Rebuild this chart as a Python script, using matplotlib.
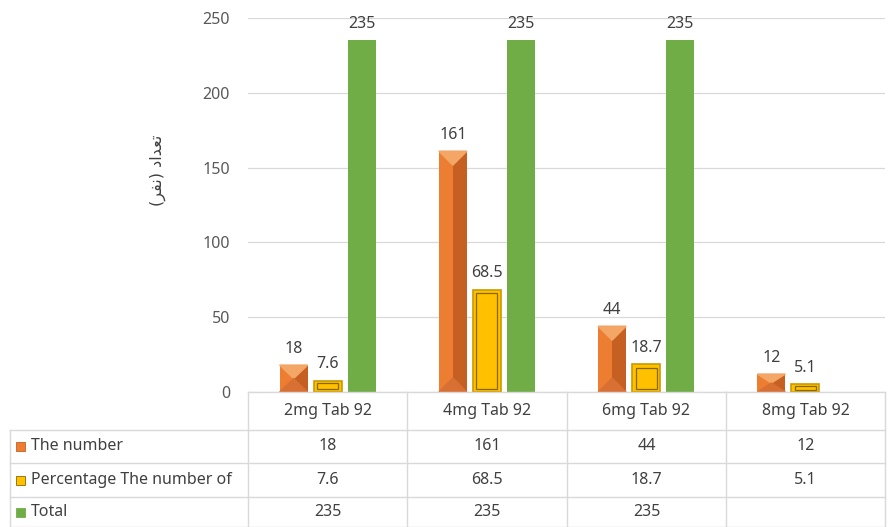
import numpy as np
import matplotlib.pyplot as plt
from matplotlib.patches import Polygon, Rectangle

categories = ["2mg Tab 92", "4mg Tab 92", "6mg Tab 92", "8mg Tab 92"]
the_number = [18, 161, 44, 12]
percentage = [7.6, 68.5, 18.7, 5.1]
total = [235, 235, 235, None]
series_names = ["The number", "Percentage The number of", "Total"]
y_ticks = [0, 50, 100, 150, 200, 250]
# "تعداد (نفر)" written with Arabic presentation forms in visual order
ylabel = "(\uFEAE\uFED4\uFEE7) \uFEA9\uFE8D\uFEAA\uFECC\uFE97"

W, H = 894, 527
def fx(px):
    return px / W
def fy(py):
    return 1 - py / H

plt.rcParams['font.family'] = ['Noto Sans', 'DejaVu Sans']
txt = '#404040'
grid_c = '#D9D9D9'

fig = plt.figure(figsize=(W / 100, H / 100), dpi=100)
ax = fig.add_axes([fx(248), fy(392), fx(885) - fx(248), (392 - 18) / H])
ax.set_xlim(-0.5, len(categories) - 0.5)
ax.set_ylim(0, 250)

# pixel -> data scales
px_x = (885 - 248) / len(categories)
px_y = (392 - 18) / 250.0
bw = 28 / px_x
step = 34 / px_x
x = np.arange(len(categories))

def label(xc, v):
    ax.annotate(f"{v:g}", (xc, v), xytext=(0, 6), textcoords='offset points',
                ha='center', va='bottom', fontsize=11.5, color=txt)

# orange bevel bars
for xc, v in zip(x - step, the_number):
    ax.bar(xc, v, bw, color='#ED7D31', zorder=3)
    ax.bar(xc + bw / 4, v, bw / 2, color='#C65F22', zorder=3)
    d = min(14 / px_y, v / 2)
    ax.add_patch(Polygon([(xc - bw / 2, v), (xc + bw / 2, v), (xc, v - d)],
                         closed=True, color='#F4A667', zorder=4))
    ax.add_patch(Polygon([(xc - bw / 2, 0), (xc + bw / 2, 0), (xc, d)],
                         closed=True, color='#D87034', zorder=4))
    label(xc, v)

# gold bevel bars
for xc, v in zip(x, percentage):
    ax.bar(xc, v, bw, color='#FFC000', edgecolor='#C99A00', linewidth=1.2, zorder=3)
    ix = 3.5 / px_x
    iy = min(3.5 / px_y, v / 4)
    ax.add_patch(Rectangle((xc - bw / 2 + ix, iy), bw - 2 * ix, v - 2 * iy,
                           facecolor='#FFC000', edgecolor='#8A6800',
                           linewidth=0.9, zorder=4))
    label(xc, v)

# green bars
for xc, v in zip(x + step, total):
    if v is None:
        continue
    ax.bar(xc, v, bw, color='#70AD47', zorder=3)
    label(xc, v)

ax.set_yticks(y_ticks)
ax.set_xticks([])
ax.yaxis.grid(True, color=grid_c, linewidth=0.9)
ax.set_axisbelow(True)
for s in ax.spines.values():
    s.set_visible(False)
ax.tick_params(axis='y', length=0, labelsize=11.5, labelcolor='#595959', pad=13)

fig.text(fx(158), fy(170), ylabel, rotation=90, ha='center', va='center',
         fontsize=11.5, color=txt, family=['DejaVu Sans'])

# data table
def hline(y, x0, x1):
    fig.add_artist(plt.Line2D([fx(x0), fx(x1)], [fy(y), fy(y)], color=grid_c, lw=1))
def vline(xp, y0, y1):
    fig.add_artist(plt.Line2D([fx(xp), fx(xp)], [fy(y0), fy(y1)], color=grid_c, lw=1))

col_edges = [248, 407, 567, 726, 885]
row_edges = [392, 430, 463, 497, 527]
hline(392, 248, 885)
for ry in row_edges[1:-1]:
    hline(ry, 10, 885)
hline(526.5, 10, 885)
for cx in col_edges:
    vline(cx, 392, 527)
vline(10, 430, 527)

for i, c in enumerate(categories):
    cx = (col_edges[i] + col_edges[i + 1]) / 2
    fig.text(fx(cx), fy(411), c, ha='center', va='center', fontsize=11.5, color=txt)

key_colors = ['#ED7D31', '#FFC000', '#70AD47']
key_edges = ['#C65F22', '#8A6800', '#70AD47']
rows = [the_number, percentage, total]
for r, (name, vals) in enumerate(zip(series_names, rows)):
    cy = (row_edges[r + 1] + row_edges[r + 2]) / 2
    fig.add_artist(Rectangle((fx(16), fy(cy + 4.5)), 9 / W, 9 / H,
                             facecolor=key_colors[r], edgecolor=key_edges[r], lw=0.6))
    fig.text(fx(31), fy(cy), name, ha='left', va='center', fontsize=11.5, color=txt)
    for i, v in enumerate(vals):
        if v is None:
            continue
        cx = (col_edges[i] + col_edges[i + 1]) / 2
        fig.text(fx(cx), fy(cy), f"{v:g}", ha='center', va='center', fontsize=11.5, color=txt)

fig.savefig('out.png', dpi=100)
